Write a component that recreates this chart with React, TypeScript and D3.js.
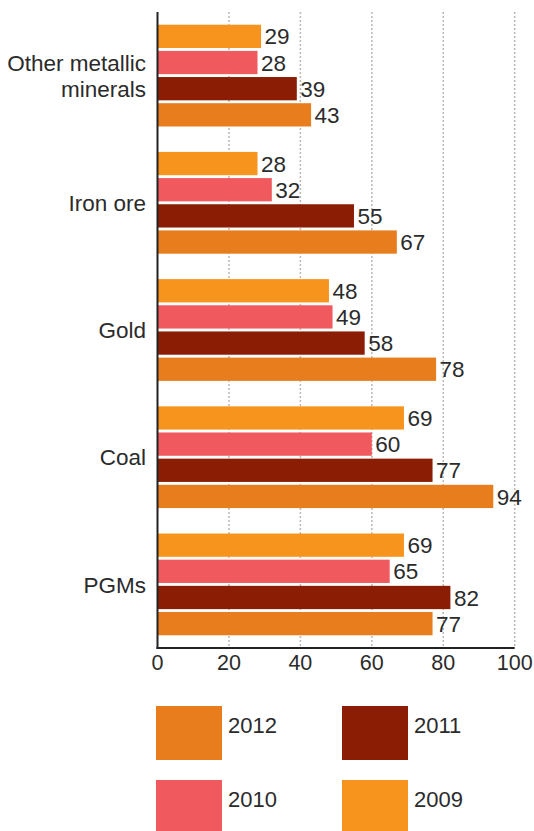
import React from "react";
import * as d3 from "d3";

const categories = ["Other metallic minerals", "Iron ore", "Gold", "Coal", "PGMs"];
const categoryLines = [["Other metallic", "minerals"], ["Iron ore"], ["Gold"], ["Coal"], ["PGMs"]];
const years = ["2009", "2010", "2011", "2012"];
const values2009 = [29, 28, 48, 69, 69];
const values2010 = [28, 32, 49, 60, 65];
const values2011 = [39, 55, 58, 77, 82];
const values2012 = [43, 67, 78, 94, 77];
const xTicks = [0, 20, 40, 60, 80, 100];
const legendOrder = ["2012", "2011", "2010", "2009"];

const colors: Record<string, string> = {
  "2009": "#F7941E",
  "2010": "#F05A5E",
  "2011": "#8A1D03",
  "2012": "#E87D1E",
};

const seriesByYear: Record<string, number[]> = {
  "2009": values2009,
  "2010": values2010,
  "2011": values2011,
  "2012": values2012,
};

const W = 534;
const H = 831;
const font = "'Liberation Sans', Arial, Helvetica, sans-serif";

export default function App() {
  const x = d3.scaleLinear().domain([0, 100]).range([157.5, 514.7]);
  const y0 = d3
    .scaleBand<string>()
    .domain(categories)
    .range([12, 648])
    .paddingInner(0.2)
    .paddingOuter(0.1);
  const y1 = d3
    .scaleBand<string>()
    .domain(years)
    .range([0, y0.bandwidth()])
    .paddingInner(0.11)
    .paddingOuter(0);

  const axisY = 648;

  return (
    <svg
      width={W}
      height={H}
      style={{ position: "absolute", left: 0, top: 0, background: "#fff" }}
      fontFamily={font}
    >
      {xTicks.slice(1).map((t) => (
        <line
          key={"g" + t}
          x1={x(t)}
          x2={x(t)}
          y1={12}
          y2={axisY}
          stroke="#bdb6b1"
          strokeWidth={1.5}
          strokeDasharray="2,2"
        />
      ))}
      {categories.map((c, i) => (
        <g key={c} transform={`translate(0,${y0(c)})`}>
          {years.map((yr) => {
            const v = seriesByYear[yr][i];
            const yy = y1(yr)!;
            return (
              <g key={yr}>
                <rect
                  x={x(0)}
                  y={yy}
                  width={x(v) - x(0)}
                  height={y1.bandwidth()}
                  fill={colors[yr]}
                />
                <text
                  x={x(v) + 3.5}
                  y={yy + y1.bandwidth() / 2}
                  dy="0.36em"
                  fontSize={22.5}
                  fill="#2b2b2b"
                >
                  {v}
                </text>
              </g>
            );
          })}
        </g>
      ))}
      {categories.map((c, i) => {
        const lines = categoryLines[i];
        const cy = y0(c)! + y0.bandwidth() / 2;
        const lh = 26;
        return (
          <text key={"l" + c} x={146} textAnchor="end" fontSize={22.5} fill="#2b2b2b">
            {lines.map((ln, j) => (
              <tspan key={j} x={146} y={cy + (j - (lines.length - 1) / 2) * lh} dy="0.36em">
                {ln}
              </tspan>
            ))}
          </text>
        );
      })}
      <line x1={x(0)} x2={x(0)} y1={12} y2={axisY + 1} stroke="#222" strokeWidth={2} />
      <line x1={x(0) - 1} x2={x(100)} y1={axisY} y2={axisY} stroke="#222" strokeWidth={2} />
      {xTicks.map((t) => (
        <text
          key={"t" + t}
          x={x(t)}
          y={670}
          textAnchor="middle"
          fontSize={21.5}
          fill="#2b2b2b"
        >
          {t}
        </text>
      ))}
      {legendOrder.map((yr, i) => {
        const col = i % 2;
        const row = Math.floor(i / 2);
        const lx = 156 + col * 186;
        const ly = 706 + row * 74;
        return (
          <g key={"lg" + yr}>
            <rect x={lx} y={ly} width={66} height={54} fill={colors[yr]} />
            <text x={lx + 72} y={ly + 27} fontSize={22} fill="#2b2b2b">
              {yr}
            </text>
          </g>
        );
      })}
    </svg>
  );
}
